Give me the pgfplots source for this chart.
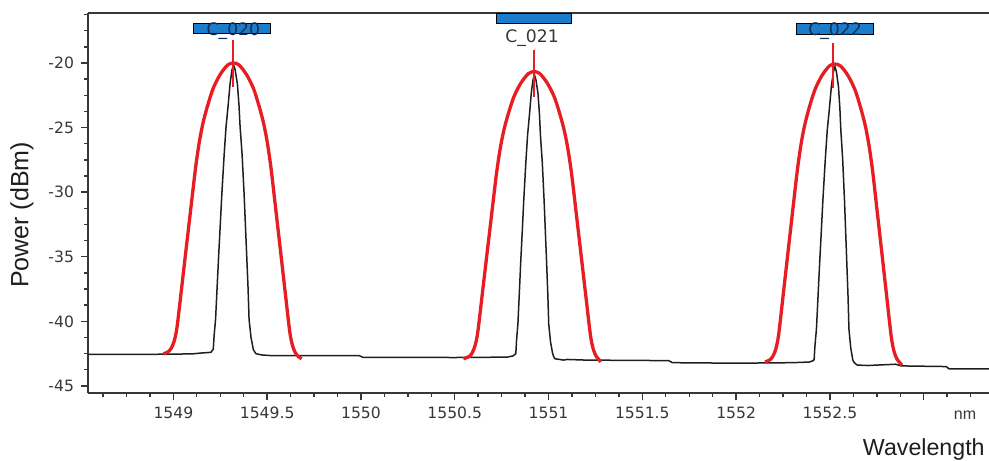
\documentclass[border=0pt]{standalone}
\usepackage{fontspec}
\setmainfont{Liberation Sans}
\newfontfamily\dejavu{DejaVu Sans}
\usepackage{pgfplots}
\pgfplotsset{compat=1.18}
\definecolor{trace}{RGB}{30,30,30}
\definecolor{fitred}{RGB}{230,30,35}
\definecolor{chanblue}{RGB}{28,124,204}
\definecolor{axisgray}{RGB}{55,55,55}
\definecolor{chantext}{RGB}{20,45,80}

\begin{document}
\begin{tikzpicture}
\path[use as bounding box] (-44pt,-33.35pt) rectangle (450.5pt,196.65pt);
\begin{axis}[
    scale only axis,
    width=450.5pt, height=190.15pt,
    xmin=1548.545, xmax=1553.348,
    ymin=-45.57, ymax=-16.13,
    clip=false,
    axis lines*=left,
    axis line style={-, axisgray, line width=1pt},
    tick align=outside,
    xtick={1549,1549.5,1550,1550.5,1551,1551.5,1552,1552.5,1553},
    xticklabels={1549,1549.5,1550,1550.5,1551,1551.5,1552,1552.5,{}},
    minor xtick={1548.625,1548.75,...,1553.25},
    ytick={-45,-40,-35,-30,-25,-20},
    yticklabels={-45,-40,-35,-30,-25,-20},
    minor ytick={-45,-43.75,...,-16.25},
    major tick length=3.5pt,
    minor tick length=2pt,
    every tick/.style={axisgray, line width=0.7pt},
    ticklabel style={font=\dejavu\fontsize{7.8}{9}\selectfont, text=axisgray},
]

% measured spectrum
\addplot[trace, line width=0.75pt] coordinates {
(1548.545,-42.55) (1548.9,-42.55) (1549.1,-42.52) (1549.15,-42.45) (1549.2,-42.40)
(1549.213,-42.15) (1549.217,-41.15) (1549.225,-39.85) (1549.233,-37.45) (1549.241,-35.05)
(1549.250,-32.55) (1549.2586,-30.10) (1549.271,-27.05) (1549.281,-24.90) (1549.292,-23.30)
(1549.3023,-21.60) (1549.313,-20.50) (1549.321,-20.15)
(1549.329,-20.50) (1549.3413,-21.60) (1549.350,-23.30) (1549.3556,-24.90) (1549.3663,-27.05)
(1549.377,-30.10) (1549.3914,-35.05) (1549.3983,-37.45) (1549.4036,-39.85) (1549.414,-41.25)
(1549.4265,-42.20)
(1549.44,-42.5) (1549.47,-42.6) (1549.52,-42.65) (1549.99,-42.65) (1550.01,-42.78)
(1550.5,-42.80) (1550.78,-42.77) (1550.81,-42.68)
(1550.8256,-42.5) (1550.8293,-41.5) (1550.8367,-40.2) (1550.844,-37.9) (1550.8514,-35.5)
(1550.8597,-33.1) (1550.8676,-30.7) (1550.879,-27.7) (1550.8882,-25.6) (1550.8983,-24.0)
(1550.9078,-22.35) (1550.9176,-21.27) (1550.925,-20.93)
(1550.9324,-21.27) (1550.9437,-22.35) (1550.9517,-24.0) (1550.9568,-25.6) (1550.9667,-27.7)
(1550.9765,-30.7) (1550.9898,-35.5) (1550.9961,-37.9) (1551.001,-40.2) (1551.0106,-41.6)
(1551.022,-42.5)
(1551.028,-42.75) (1551.035,-42.9) (1551.06,-42.95) (1551.08,-43.0) (1551.1,-42.95)
(1551.2,-43.0) (1551.64,-43.04) (1551.66,-43.2) (1552.0,-43.24) (1552.3,-43.2)
(1552.39,-43.15) (1552.41,-43.05)
(1552.4158,-42.96) (1552.4199,-41.93) (1552.4281,-40.59) (1552.4364,-38.12) (1552.4446,-35.65)
(1552.4539,-33.07) (1552.4627,-30.55) (1552.4755,-27.41) (1552.4858,-25.19) (1552.4971,-23.54)
(1552.5077,-21.79) (1552.5188,-20.66) (1552.527,-20.30)
(1552.5342,-20.66) (1552.5453,-21.79) (1552.5531,-23.54) (1552.5581,-25.19) (1552.5678,-27.41)
(1552.5774,-30.55) (1552.5904,-35.65) (1552.5966,-38.12) (1552.6013,-40.59) (1552.6107,-42.03)
(1552.622,-43.01)
(1552.63,-43.2) (1552.645,-43.38) (1552.7,-43.42) (1552.85,-43.32) (1552.88,-43.45)
(1553.12,-43.5) (1553.135,-43.68) (1553.348,-43.68)
};

% fitted channel shapes
\addplot[fitred, line width=1.65pt, smooth, tension=0.5] coordinates {
(1548.947,-42.52) (1548.974,-42.34) (1548.990,-42.05) (1549.005,-41.5) (1549.020,-40.4)
(1549.045,-37.3) (1549.070,-34.15) (1549.094,-31.15) (1549.116,-28.4) (1549.128,-27.1)
(1549.142,-25.81) (1549.160,-24.52) (1549.184,-23.23) (1549.213,-21.94) (1549.250,-20.88)
(1549.290,-20.15) (1549.320,-20.0)
(1549.350,-20.15) (1549.390,-20.90) (1549.427,-21.97) (1549.456,-23.29) (1549.480,-24.60)
(1549.498,-25.91) (1549.512,-27.22) (1549.524,-28.54) (1549.546,-31.34) (1549.570,-34.39)
(1549.595,-37.59) (1549.620,-40.75) (1549.635,-41.86) (1549.650,-42.42) (1549.666,-42.72)
(1549.684,-42.9)
};
\addplot[fitred, line width=1.65pt, smooth, tension=0.5] coordinates {
(1550.546,-42.9) (1550.577,-42.72) (1550.593,-42.44) (1550.608,-41.89) (1550.623,-40.81)
(1550.648,-37.74) (1550.673,-34.64) (1550.697,-31.68) (1550.719,-28.96) (1550.731,-27.68)
(1550.745,-26.41) (1550.763,-25.13) (1550.787,-23.86) (1550.816,-22.59) (1550.853,-21.54)
(1550.893,-20.82) (1550.923,-20.67)
(1550.953,-20.82) (1550.993,-21.55) (1551.030,-22.61) (1551.059,-23.89) (1551.083,-25.18)
(1551.101,-26.47) (1551.115,-27.76) (1551.127,-29.06) (1551.149,-31.80) (1551.173,-34.80)
(1551.198,-37.94) (1551.223,-41.03) (1551.238,-42.13) (1551.253,-42.68) (1551.269,-42.97)
(1551.278,-43.15)
};
\addplot[fitred, line width=1.65pt, smooth, tension=0.5] coordinates {
(1552.154,-43.15) (1552.181,-42.97) (1552.197,-42.67) (1552.212,-42.11) (1552.227,-40.98)
(1552.252,-37.80) (1552.277,-34.58) (1552.301,-31.50) (1552.323,-28.69) (1552.335,-27.35)
(1552.349,-26.03) (1552.367,-24.71) (1552.391,-23.39) (1552.420,-22.07) (1552.457,-20.98)
(1552.497,-20.23) (1552.527,-20.08)
(1552.557,-20.24) (1552.597,-20.99) (1552.634,-22.09) (1552.663,-23.43) (1552.687,-24.76)
(1552.705,-26.10) (1552.719,-27.43) (1552.731,-28.78) (1552.753,-31.63) (1552.777,-34.73)
(1552.802,-37.99) (1552.827,-41.20) (1552.842,-42.34) (1552.857,-42.91) (1552.873,-43.21)
(1552.883,-43.4)
};

% centre markers
\addplot[fitred, line width=1pt] coordinates {(1549.32,-18.2) (1549.32,-21.84)};
\addplot[fitred, line width=1pt] coordinates {(1550.921,-18.97) (1550.921,-22.6)};
\addplot[fitred, line width=1pt] coordinates {(1552.516,-18.45) (1552.516,-21.94)};

% top frame line
\draw[axisgray, line width=1pt] (rel axis cs:0,1) -- (rel axis cs:1,1);

% channel labels
\draw[fill=chanblue, draw=black, line width=0.4pt] (axis cs:1549.108,-16.90) rectangle (axis cs:1549.517,-17.73);
\node[font=\dejavu\fontsize{8.6}{10}\selectfont, text=chantext] at (axis cs:1549.32,-17.5) {C\_020};
\draw[fill=chanblue, draw=black, line width=0.4pt] (axis cs:1550.722,-16.13) rectangle (axis cs:1551.122,-16.90);
\node[font=\dejavu\fontsize{8.6}{10}\selectfont, text=axisgray] at (axis cs:1550.912,-18.04) {C\_021};
\draw[fill=chanblue, draw=black, line width=0.4pt] (axis cs:1552.321,-16.90) rectangle (axis cs:1552.732,-17.75);
\node[font=\dejavu\fontsize{8.6}{10}\selectfont, text=chantext] at (axis cs:1552.527,-17.5) {C\_022};
\end{axis}

\node[rotate=90, font=\fontsize{12.5}{15}\selectfont, text=trace] at (-33pt,89.15pt) {Power (dBm)};
\node[anchor=base east, inner sep=0pt, font=\fontsize{11.6}{14}\selectfont, text=trace] at (448.5pt,-30.85pt) {Wavelength};
\node[anchor=base, inner sep=0pt, font=\fontsize{8}{10}\selectfont, text=axisgray] at (438.5pt,-13.35pt) {nm};
\end{tikzpicture}
\end{document}
